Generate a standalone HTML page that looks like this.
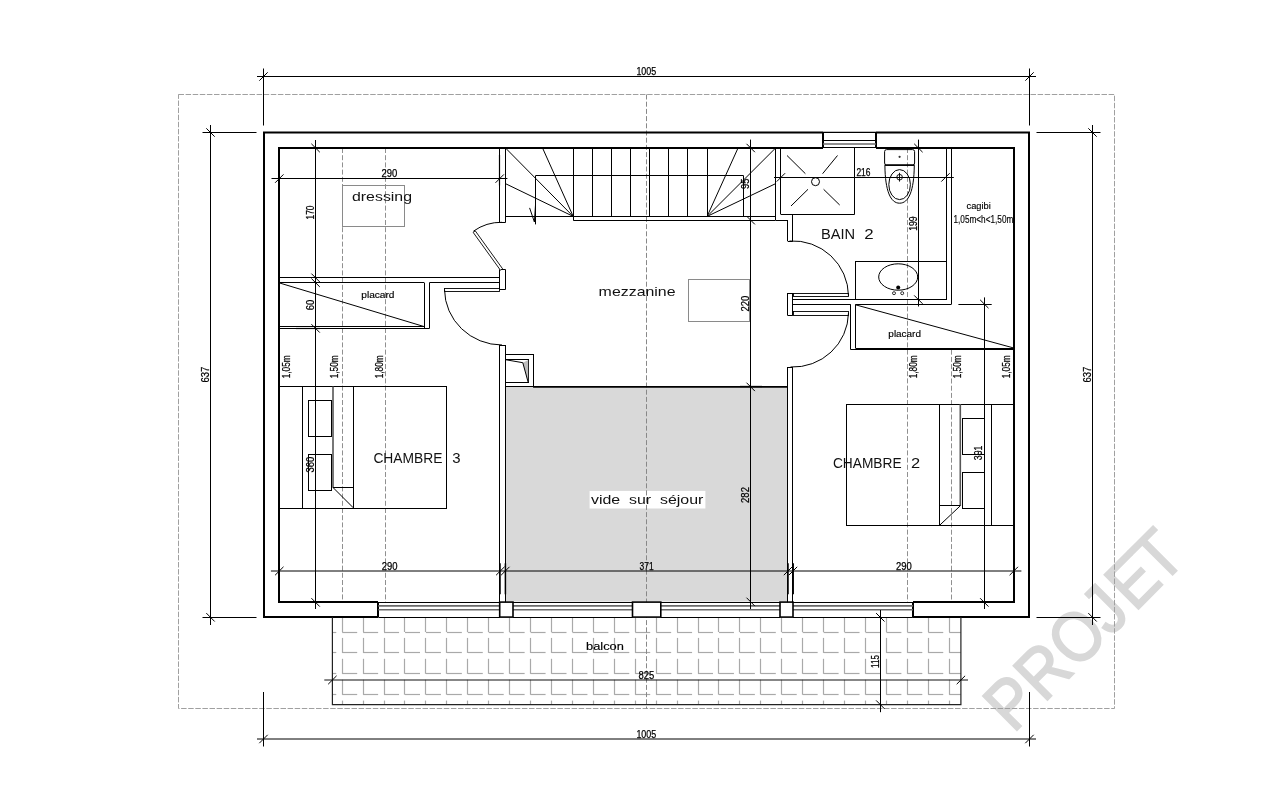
<!DOCTYPE html>
<html><head><meta charset="utf-8"><title>Plan</title>
<style>
html,body{margin:0;padding:0;background:#fff;}
body{width:1268px;height:811px;overflow:hidden;}
svg{display:block;font-family:"Liberation Sans",sans-serif;filter:grayscale(100%);}
</style></head><body>
<svg width="1268" height="811" viewBox="0 0 1268 811">
<defs><clipPath id="lbl"><rect x="589" y="490" width="117" height="19"/></clipPath></defs>
<rect x="0" y="0" width="1268" height="811" fill="#fff"/>
<rect x="505.6" y="386.7" width="282.2" height="214.9" stroke="none" stroke-width="0" fill="#d9d9d9"/>
<g transform="translate(1013.35 733.85) rotate(-45) scale(0.899 1)"><text x="0.00 47.66 99.41 152.39 190.82 232.26" y="0" font-size="69.8" fill="#d8d8d8" stroke="#d8d8d8" stroke-width="1.9">PROJET</text></g>
<line x1="342.5" y1="617.3" x2="342.5" y2="632" stroke="#a9a9a9" stroke-width="1.2"/>
<line x1="342.5" y1="637.9" x2="342.5" y2="652.9" stroke="#a9a9a9" stroke-width="1.2"/>
<line x1="342.5" y1="658.8" x2="342.5" y2="673.8" stroke="#a9a9a9" stroke-width="1.2"/>
<line x1="342.5" y1="679.7" x2="342.5" y2="694.7" stroke="#a9a9a9" stroke-width="1.2"/>
<line x1="342.5" y1="700.6" x2="342.5" y2="704.6" stroke="#a9a9a9" stroke-width="1.2"/>
<line x1="363.5" y1="617.3" x2="363.5" y2="632" stroke="#a9a9a9" stroke-width="1.2"/>
<line x1="363.5" y1="637.9" x2="363.5" y2="652.9" stroke="#a9a9a9" stroke-width="1.2"/>
<line x1="363.5" y1="658.8" x2="363.5" y2="673.8" stroke="#a9a9a9" stroke-width="1.2"/>
<line x1="363.5" y1="679.7" x2="363.5" y2="694.7" stroke="#a9a9a9" stroke-width="1.2"/>
<line x1="363.5" y1="700.6" x2="363.5" y2="704.6" stroke="#a9a9a9" stroke-width="1.2"/>
<line x1="384.5" y1="617.3" x2="384.5" y2="632" stroke="#a9a9a9" stroke-width="1.2"/>
<line x1="384.5" y1="637.9" x2="384.5" y2="652.9" stroke="#a9a9a9" stroke-width="1.2"/>
<line x1="384.5" y1="658.8" x2="384.5" y2="673.8" stroke="#a9a9a9" stroke-width="1.2"/>
<line x1="384.5" y1="679.7" x2="384.5" y2="694.7" stroke="#a9a9a9" stroke-width="1.2"/>
<line x1="384.5" y1="700.6" x2="384.5" y2="704.6" stroke="#a9a9a9" stroke-width="1.2"/>
<line x1="404.5" y1="617.3" x2="404.5" y2="632" stroke="#a9a9a9" stroke-width="1.2"/>
<line x1="404.5" y1="637.9" x2="404.5" y2="652.9" stroke="#a9a9a9" stroke-width="1.2"/>
<line x1="404.5" y1="658.8" x2="404.5" y2="673.8" stroke="#a9a9a9" stroke-width="1.2"/>
<line x1="404.5" y1="679.7" x2="404.5" y2="694.7" stroke="#a9a9a9" stroke-width="1.2"/>
<line x1="404.5" y1="700.6" x2="404.5" y2="704.6" stroke="#a9a9a9" stroke-width="1.2"/>
<line x1="425.5" y1="617.3" x2="425.5" y2="632" stroke="#a9a9a9" stroke-width="1.2"/>
<line x1="425.5" y1="637.9" x2="425.5" y2="652.9" stroke="#a9a9a9" stroke-width="1.2"/>
<line x1="425.5" y1="658.8" x2="425.5" y2="673.8" stroke="#a9a9a9" stroke-width="1.2"/>
<line x1="425.5" y1="679.7" x2="425.5" y2="694.7" stroke="#a9a9a9" stroke-width="1.2"/>
<line x1="425.5" y1="700.6" x2="425.5" y2="704.6" stroke="#a9a9a9" stroke-width="1.2"/>
<line x1="446.5" y1="617.3" x2="446.5" y2="632" stroke="#a9a9a9" stroke-width="1.2"/>
<line x1="446.5" y1="637.9" x2="446.5" y2="652.9" stroke="#a9a9a9" stroke-width="1.2"/>
<line x1="446.5" y1="658.8" x2="446.5" y2="673.8" stroke="#a9a9a9" stroke-width="1.2"/>
<line x1="446.5" y1="679.7" x2="446.5" y2="694.7" stroke="#a9a9a9" stroke-width="1.2"/>
<line x1="446.5" y1="700.6" x2="446.5" y2="704.6" stroke="#a9a9a9" stroke-width="1.2"/>
<line x1="467.5" y1="617.3" x2="467.5" y2="632" stroke="#a9a9a9" stroke-width="1.2"/>
<line x1="467.5" y1="637.9" x2="467.5" y2="652.9" stroke="#a9a9a9" stroke-width="1.2"/>
<line x1="467.5" y1="658.8" x2="467.5" y2="673.8" stroke="#a9a9a9" stroke-width="1.2"/>
<line x1="467.5" y1="679.7" x2="467.5" y2="694.7" stroke="#a9a9a9" stroke-width="1.2"/>
<line x1="467.5" y1="700.6" x2="467.5" y2="704.6" stroke="#a9a9a9" stroke-width="1.2"/>
<line x1="488.5" y1="617.3" x2="488.5" y2="632" stroke="#a9a9a9" stroke-width="1.2"/>
<line x1="488.5" y1="637.9" x2="488.5" y2="652.9" stroke="#a9a9a9" stroke-width="1.2"/>
<line x1="488.5" y1="658.8" x2="488.5" y2="673.8" stroke="#a9a9a9" stroke-width="1.2"/>
<line x1="488.5" y1="679.7" x2="488.5" y2="694.7" stroke="#a9a9a9" stroke-width="1.2"/>
<line x1="488.5" y1="700.6" x2="488.5" y2="704.6" stroke="#a9a9a9" stroke-width="1.2"/>
<line x1="509.5" y1="617.3" x2="509.5" y2="632" stroke="#a9a9a9" stroke-width="1.2"/>
<line x1="509.5" y1="637.9" x2="509.5" y2="652.9" stroke="#a9a9a9" stroke-width="1.2"/>
<line x1="509.5" y1="658.8" x2="509.5" y2="673.8" stroke="#a9a9a9" stroke-width="1.2"/>
<line x1="509.5" y1="679.7" x2="509.5" y2="694.7" stroke="#a9a9a9" stroke-width="1.2"/>
<line x1="509.5" y1="700.6" x2="509.5" y2="704.6" stroke="#a9a9a9" stroke-width="1.2"/>
<line x1="530.5" y1="617.3" x2="530.5" y2="632" stroke="#a9a9a9" stroke-width="1.2"/>
<line x1="530.5" y1="637.9" x2="530.5" y2="652.9" stroke="#a9a9a9" stroke-width="1.2"/>
<line x1="530.5" y1="658.8" x2="530.5" y2="673.8" stroke="#a9a9a9" stroke-width="1.2"/>
<line x1="530.5" y1="679.7" x2="530.5" y2="694.7" stroke="#a9a9a9" stroke-width="1.2"/>
<line x1="530.5" y1="700.6" x2="530.5" y2="704.6" stroke="#a9a9a9" stroke-width="1.2"/>
<line x1="551.5" y1="617.3" x2="551.5" y2="632" stroke="#a9a9a9" stroke-width="1.2"/>
<line x1="551.5" y1="637.9" x2="551.5" y2="652.9" stroke="#a9a9a9" stroke-width="1.2"/>
<line x1="551.5" y1="658.8" x2="551.5" y2="673.8" stroke="#a9a9a9" stroke-width="1.2"/>
<line x1="551.5" y1="679.7" x2="551.5" y2="694.7" stroke="#a9a9a9" stroke-width="1.2"/>
<line x1="551.5" y1="700.6" x2="551.5" y2="704.6" stroke="#a9a9a9" stroke-width="1.2"/>
<line x1="572.5" y1="617.3" x2="572.5" y2="632" stroke="#a9a9a9" stroke-width="1.2"/>
<line x1="572.5" y1="637.9" x2="572.5" y2="652.9" stroke="#a9a9a9" stroke-width="1.2"/>
<line x1="572.5" y1="658.8" x2="572.5" y2="673.8" stroke="#a9a9a9" stroke-width="1.2"/>
<line x1="572.5" y1="679.7" x2="572.5" y2="694.7" stroke="#a9a9a9" stroke-width="1.2"/>
<line x1="572.5" y1="700.6" x2="572.5" y2="704.6" stroke="#a9a9a9" stroke-width="1.2"/>
<line x1="593.5" y1="617.3" x2="593.5" y2="632" stroke="#a9a9a9" stroke-width="1.2"/>
<line x1="593.5" y1="637.9" x2="593.5" y2="652.9" stroke="#a9a9a9" stroke-width="1.2"/>
<line x1="593.5" y1="658.8" x2="593.5" y2="673.8" stroke="#a9a9a9" stroke-width="1.2"/>
<line x1="593.5" y1="679.7" x2="593.5" y2="694.7" stroke="#a9a9a9" stroke-width="1.2"/>
<line x1="593.5" y1="700.6" x2="593.5" y2="704.6" stroke="#a9a9a9" stroke-width="1.2"/>
<line x1="614.5" y1="617.3" x2="614.5" y2="632" stroke="#a9a9a9" stroke-width="1.2"/>
<line x1="614.5" y1="637.9" x2="614.5" y2="652.9" stroke="#a9a9a9" stroke-width="1.2"/>
<line x1="614.5" y1="658.8" x2="614.5" y2="673.8" stroke="#a9a9a9" stroke-width="1.2"/>
<line x1="614.5" y1="679.7" x2="614.5" y2="694.7" stroke="#a9a9a9" stroke-width="1.2"/>
<line x1="614.5" y1="700.6" x2="614.5" y2="704.6" stroke="#a9a9a9" stroke-width="1.2"/>
<line x1="635.5" y1="617.3" x2="635.5" y2="632" stroke="#a9a9a9" stroke-width="1.2"/>
<line x1="635.5" y1="637.9" x2="635.5" y2="652.9" stroke="#a9a9a9" stroke-width="1.2"/>
<line x1="635.5" y1="658.8" x2="635.5" y2="673.8" stroke="#a9a9a9" stroke-width="1.2"/>
<line x1="635.5" y1="679.7" x2="635.5" y2="694.7" stroke="#a9a9a9" stroke-width="1.2"/>
<line x1="635.5" y1="700.6" x2="635.5" y2="704.6" stroke="#a9a9a9" stroke-width="1.2"/>
<line x1="656.5" y1="617.3" x2="656.5" y2="632" stroke="#a9a9a9" stroke-width="1.2"/>
<line x1="656.5" y1="637.9" x2="656.5" y2="652.9" stroke="#a9a9a9" stroke-width="1.2"/>
<line x1="656.5" y1="658.8" x2="656.5" y2="673.8" stroke="#a9a9a9" stroke-width="1.2"/>
<line x1="656.5" y1="679.7" x2="656.5" y2="694.7" stroke="#a9a9a9" stroke-width="1.2"/>
<line x1="656.5" y1="700.6" x2="656.5" y2="704.6" stroke="#a9a9a9" stroke-width="1.2"/>
<line x1="677.5" y1="617.3" x2="677.5" y2="632" stroke="#a9a9a9" stroke-width="1.2"/>
<line x1="677.5" y1="637.9" x2="677.5" y2="652.9" stroke="#a9a9a9" stroke-width="1.2"/>
<line x1="677.5" y1="658.8" x2="677.5" y2="673.8" stroke="#a9a9a9" stroke-width="1.2"/>
<line x1="677.5" y1="679.7" x2="677.5" y2="694.7" stroke="#a9a9a9" stroke-width="1.2"/>
<line x1="677.5" y1="700.6" x2="677.5" y2="704.6" stroke="#a9a9a9" stroke-width="1.2"/>
<line x1="698.5" y1="617.3" x2="698.5" y2="632" stroke="#a9a9a9" stroke-width="1.2"/>
<line x1="698.5" y1="637.9" x2="698.5" y2="652.9" stroke="#a9a9a9" stroke-width="1.2"/>
<line x1="698.5" y1="658.8" x2="698.5" y2="673.8" stroke="#a9a9a9" stroke-width="1.2"/>
<line x1="698.5" y1="679.7" x2="698.5" y2="694.7" stroke="#a9a9a9" stroke-width="1.2"/>
<line x1="698.5" y1="700.6" x2="698.5" y2="704.6" stroke="#a9a9a9" stroke-width="1.2"/>
<line x1="718.5" y1="617.3" x2="718.5" y2="632" stroke="#a9a9a9" stroke-width="1.2"/>
<line x1="718.5" y1="637.9" x2="718.5" y2="652.9" stroke="#a9a9a9" stroke-width="1.2"/>
<line x1="718.5" y1="658.8" x2="718.5" y2="673.8" stroke="#a9a9a9" stroke-width="1.2"/>
<line x1="718.5" y1="679.7" x2="718.5" y2="694.7" stroke="#a9a9a9" stroke-width="1.2"/>
<line x1="718.5" y1="700.6" x2="718.5" y2="704.6" stroke="#a9a9a9" stroke-width="1.2"/>
<line x1="739.5" y1="617.3" x2="739.5" y2="632" stroke="#a9a9a9" stroke-width="1.2"/>
<line x1="739.5" y1="637.9" x2="739.5" y2="652.9" stroke="#a9a9a9" stroke-width="1.2"/>
<line x1="739.5" y1="658.8" x2="739.5" y2="673.8" stroke="#a9a9a9" stroke-width="1.2"/>
<line x1="739.5" y1="679.7" x2="739.5" y2="694.7" stroke="#a9a9a9" stroke-width="1.2"/>
<line x1="739.5" y1="700.6" x2="739.5" y2="704.6" stroke="#a9a9a9" stroke-width="1.2"/>
<line x1="760.5" y1="617.3" x2="760.5" y2="632" stroke="#a9a9a9" stroke-width="1.2"/>
<line x1="760.5" y1="637.9" x2="760.5" y2="652.9" stroke="#a9a9a9" stroke-width="1.2"/>
<line x1="760.5" y1="658.8" x2="760.5" y2="673.8" stroke="#a9a9a9" stroke-width="1.2"/>
<line x1="760.5" y1="679.7" x2="760.5" y2="694.7" stroke="#a9a9a9" stroke-width="1.2"/>
<line x1="760.5" y1="700.6" x2="760.5" y2="704.6" stroke="#a9a9a9" stroke-width="1.2"/>
<line x1="781.5" y1="617.3" x2="781.5" y2="632" stroke="#a9a9a9" stroke-width="1.2"/>
<line x1="781.5" y1="637.9" x2="781.5" y2="652.9" stroke="#a9a9a9" stroke-width="1.2"/>
<line x1="781.5" y1="658.8" x2="781.5" y2="673.8" stroke="#a9a9a9" stroke-width="1.2"/>
<line x1="781.5" y1="679.7" x2="781.5" y2="694.7" stroke="#a9a9a9" stroke-width="1.2"/>
<line x1="781.5" y1="700.6" x2="781.5" y2="704.6" stroke="#a9a9a9" stroke-width="1.2"/>
<line x1="802.5" y1="617.3" x2="802.5" y2="632" stroke="#a9a9a9" stroke-width="1.2"/>
<line x1="802.5" y1="637.9" x2="802.5" y2="652.9" stroke="#a9a9a9" stroke-width="1.2"/>
<line x1="802.5" y1="658.8" x2="802.5" y2="673.8" stroke="#a9a9a9" stroke-width="1.2"/>
<line x1="802.5" y1="679.7" x2="802.5" y2="694.7" stroke="#a9a9a9" stroke-width="1.2"/>
<line x1="802.5" y1="700.6" x2="802.5" y2="704.6" stroke="#a9a9a9" stroke-width="1.2"/>
<line x1="823.5" y1="617.3" x2="823.5" y2="632" stroke="#a9a9a9" stroke-width="1.2"/>
<line x1="823.5" y1="637.9" x2="823.5" y2="652.9" stroke="#a9a9a9" stroke-width="1.2"/>
<line x1="823.5" y1="658.8" x2="823.5" y2="673.8" stroke="#a9a9a9" stroke-width="1.2"/>
<line x1="823.5" y1="679.7" x2="823.5" y2="694.7" stroke="#a9a9a9" stroke-width="1.2"/>
<line x1="823.5" y1="700.6" x2="823.5" y2="704.6" stroke="#a9a9a9" stroke-width="1.2"/>
<line x1="844.5" y1="617.3" x2="844.5" y2="632" stroke="#a9a9a9" stroke-width="1.2"/>
<line x1="844.5" y1="637.9" x2="844.5" y2="652.9" stroke="#a9a9a9" stroke-width="1.2"/>
<line x1="844.5" y1="658.8" x2="844.5" y2="673.8" stroke="#a9a9a9" stroke-width="1.2"/>
<line x1="844.5" y1="679.7" x2="844.5" y2="694.7" stroke="#a9a9a9" stroke-width="1.2"/>
<line x1="844.5" y1="700.6" x2="844.5" y2="704.6" stroke="#a9a9a9" stroke-width="1.2"/>
<line x1="865.5" y1="617.3" x2="865.5" y2="632" stroke="#a9a9a9" stroke-width="1.2"/>
<line x1="865.5" y1="637.9" x2="865.5" y2="652.9" stroke="#a9a9a9" stroke-width="1.2"/>
<line x1="865.5" y1="658.8" x2="865.5" y2="673.8" stroke="#a9a9a9" stroke-width="1.2"/>
<line x1="865.5" y1="679.7" x2="865.5" y2="694.7" stroke="#a9a9a9" stroke-width="1.2"/>
<line x1="865.5" y1="700.6" x2="865.5" y2="704.6" stroke="#a9a9a9" stroke-width="1.2"/>
<line x1="886.5" y1="617.3" x2="886.5" y2="632" stroke="#a9a9a9" stroke-width="1.2"/>
<line x1="886.5" y1="637.9" x2="886.5" y2="652.9" stroke="#a9a9a9" stroke-width="1.2"/>
<line x1="886.5" y1="658.8" x2="886.5" y2="673.8" stroke="#a9a9a9" stroke-width="1.2"/>
<line x1="886.5" y1="679.7" x2="886.5" y2="694.7" stroke="#a9a9a9" stroke-width="1.2"/>
<line x1="886.5" y1="700.6" x2="886.5" y2="704.6" stroke="#a9a9a9" stroke-width="1.2"/>
<line x1="907.5" y1="617.3" x2="907.5" y2="632" stroke="#a9a9a9" stroke-width="1.2"/>
<line x1="907.5" y1="637.9" x2="907.5" y2="652.9" stroke="#a9a9a9" stroke-width="1.2"/>
<line x1="907.5" y1="658.8" x2="907.5" y2="673.8" stroke="#a9a9a9" stroke-width="1.2"/>
<line x1="907.5" y1="679.7" x2="907.5" y2="694.7" stroke="#a9a9a9" stroke-width="1.2"/>
<line x1="907.5" y1="700.6" x2="907.5" y2="704.6" stroke="#a9a9a9" stroke-width="1.2"/>
<line x1="928.5" y1="617.3" x2="928.5" y2="632" stroke="#a9a9a9" stroke-width="1.2"/>
<line x1="928.5" y1="637.9" x2="928.5" y2="652.9" stroke="#a9a9a9" stroke-width="1.2"/>
<line x1="928.5" y1="658.8" x2="928.5" y2="673.8" stroke="#a9a9a9" stroke-width="1.2"/>
<line x1="928.5" y1="679.7" x2="928.5" y2="694.7" stroke="#a9a9a9" stroke-width="1.2"/>
<line x1="928.5" y1="700.6" x2="928.5" y2="704.6" stroke="#a9a9a9" stroke-width="1.2"/>
<line x1="949.5" y1="617.3" x2="949.5" y2="632" stroke="#a9a9a9" stroke-width="1.2"/>
<line x1="949.5" y1="637.9" x2="949.5" y2="652.9" stroke="#a9a9a9" stroke-width="1.2"/>
<line x1="949.5" y1="658.8" x2="949.5" y2="673.8" stroke="#a9a9a9" stroke-width="1.2"/>
<line x1="949.5" y1="679.7" x2="949.5" y2="694.7" stroke="#a9a9a9" stroke-width="1.2"/>
<line x1="949.5" y1="700.6" x2="949.5" y2="704.6" stroke="#a9a9a9" stroke-width="1.2"/>
<line x1="332.4" y1="632.5" x2="336.27" y2="632.5" stroke="#a9a9a9" stroke-width="1.2"/>
<line x1="342.2" y1="632.5" x2="357.2" y2="632.5" stroke="#a9a9a9" stroke-width="1.2"/>
<line x1="363.13" y1="632.5" x2="378.13" y2="632.5" stroke="#a9a9a9" stroke-width="1.2"/>
<line x1="384.06" y1="632.5" x2="399.06" y2="632.5" stroke="#a9a9a9" stroke-width="1.2"/>
<line x1="404.99" y1="632.5" x2="419.99" y2="632.5" stroke="#a9a9a9" stroke-width="1.2"/>
<line x1="425.92" y1="632.5" x2="440.92" y2="632.5" stroke="#a9a9a9" stroke-width="1.2"/>
<line x1="446.85" y1="632.5" x2="461.85" y2="632.5" stroke="#a9a9a9" stroke-width="1.2"/>
<line x1="467.78" y1="632.5" x2="482.78" y2="632.5" stroke="#a9a9a9" stroke-width="1.2"/>
<line x1="488.71" y1="632.5" x2="503.71" y2="632.5" stroke="#a9a9a9" stroke-width="1.2"/>
<line x1="509.64" y1="632.5" x2="524.64" y2="632.5" stroke="#a9a9a9" stroke-width="1.2"/>
<line x1="530.57" y1="632.5" x2="545.57" y2="632.5" stroke="#a9a9a9" stroke-width="1.2"/>
<line x1="551.5" y1="632.5" x2="566.5" y2="632.5" stroke="#a9a9a9" stroke-width="1.2"/>
<line x1="572.43" y1="632.5" x2="587.43" y2="632.5" stroke="#a9a9a9" stroke-width="1.2"/>
<line x1="593.36" y1="632.5" x2="608.36" y2="632.5" stroke="#a9a9a9" stroke-width="1.2"/>
<line x1="614.29" y1="632.5" x2="629.29" y2="632.5" stroke="#a9a9a9" stroke-width="1.2"/>
<line x1="635.22" y1="632.5" x2="650.22" y2="632.5" stroke="#a9a9a9" stroke-width="1.2"/>
<line x1="656.15" y1="632.5" x2="671.15" y2="632.5" stroke="#a9a9a9" stroke-width="1.2"/>
<line x1="677.08" y1="632.5" x2="692.08" y2="632.5" stroke="#a9a9a9" stroke-width="1.2"/>
<line x1="698.01" y1="632.5" x2="713.01" y2="632.5" stroke="#a9a9a9" stroke-width="1.2"/>
<line x1="718.94" y1="632.5" x2="733.94" y2="632.5" stroke="#a9a9a9" stroke-width="1.2"/>
<line x1="739.87" y1="632.5" x2="754.87" y2="632.5" stroke="#a9a9a9" stroke-width="1.2"/>
<line x1="760.8" y1="632.5" x2="775.8" y2="632.5" stroke="#a9a9a9" stroke-width="1.2"/>
<line x1="781.73" y1="632.5" x2="796.73" y2="632.5" stroke="#a9a9a9" stroke-width="1.2"/>
<line x1="802.66" y1="632.5" x2="817.66" y2="632.5" stroke="#a9a9a9" stroke-width="1.2"/>
<line x1="823.59" y1="632.5" x2="838.59" y2="632.5" stroke="#a9a9a9" stroke-width="1.2"/>
<line x1="844.52" y1="632.5" x2="859.52" y2="632.5" stroke="#a9a9a9" stroke-width="1.2"/>
<line x1="865.45" y1="632.5" x2="880.45" y2="632.5" stroke="#a9a9a9" stroke-width="1.2"/>
<line x1="886.38" y1="632.5" x2="901.38" y2="632.5" stroke="#a9a9a9" stroke-width="1.2"/>
<line x1="907.31" y1="632.5" x2="922.31" y2="632.5" stroke="#a9a9a9" stroke-width="1.2"/>
<line x1="928.24" y1="632.5" x2="943.24" y2="632.5" stroke="#a9a9a9" stroke-width="1.2"/>
<line x1="949.17" y1="632.5" x2="960.9" y2="632.5" stroke="#a9a9a9" stroke-width="1.2"/>
<line x1="332.4" y1="652.5" x2="336.27" y2="652.5" stroke="#a9a9a9" stroke-width="1.2"/>
<line x1="342.2" y1="652.5" x2="357.2" y2="652.5" stroke="#a9a9a9" stroke-width="1.2"/>
<line x1="363.13" y1="652.5" x2="378.13" y2="652.5" stroke="#a9a9a9" stroke-width="1.2"/>
<line x1="384.06" y1="652.5" x2="399.06" y2="652.5" stroke="#a9a9a9" stroke-width="1.2"/>
<line x1="404.99" y1="652.5" x2="419.99" y2="652.5" stroke="#a9a9a9" stroke-width="1.2"/>
<line x1="425.92" y1="652.5" x2="440.92" y2="652.5" stroke="#a9a9a9" stroke-width="1.2"/>
<line x1="446.85" y1="652.5" x2="461.85" y2="652.5" stroke="#a9a9a9" stroke-width="1.2"/>
<line x1="467.78" y1="652.5" x2="482.78" y2="652.5" stroke="#a9a9a9" stroke-width="1.2"/>
<line x1="488.71" y1="652.5" x2="503.71" y2="652.5" stroke="#a9a9a9" stroke-width="1.2"/>
<line x1="509.64" y1="652.5" x2="524.64" y2="652.5" stroke="#a9a9a9" stroke-width="1.2"/>
<line x1="530.57" y1="652.5" x2="545.57" y2="652.5" stroke="#a9a9a9" stroke-width="1.2"/>
<line x1="551.5" y1="652.5" x2="566.5" y2="652.5" stroke="#a9a9a9" stroke-width="1.2"/>
<line x1="572.43" y1="652.5" x2="587.43" y2="652.5" stroke="#a9a9a9" stroke-width="1.2"/>
<line x1="593.36" y1="652.5" x2="608.36" y2="652.5" stroke="#a9a9a9" stroke-width="1.2"/>
<line x1="614.29" y1="652.5" x2="629.29" y2="652.5" stroke="#a9a9a9" stroke-width="1.2"/>
<line x1="635.22" y1="652.5" x2="650.22" y2="652.5" stroke="#a9a9a9" stroke-width="1.2"/>
<line x1="656.15" y1="652.5" x2="671.15" y2="652.5" stroke="#a9a9a9" stroke-width="1.2"/>
<line x1="677.08" y1="652.5" x2="692.08" y2="652.5" stroke="#a9a9a9" stroke-width="1.2"/>
<line x1="698.01" y1="652.5" x2="713.01" y2="652.5" stroke="#a9a9a9" stroke-width="1.2"/>
<line x1="718.94" y1="652.5" x2="733.94" y2="652.5" stroke="#a9a9a9" stroke-width="1.2"/>
<line x1="739.87" y1="652.5" x2="754.87" y2="652.5" stroke="#a9a9a9" stroke-width="1.2"/>
<line x1="760.8" y1="652.5" x2="775.8" y2="652.5" stroke="#a9a9a9" stroke-width="1.2"/>
<line x1="781.73" y1="652.5" x2="796.73" y2="652.5" stroke="#a9a9a9" stroke-width="1.2"/>
<line x1="802.66" y1="652.5" x2="817.66" y2="652.5" stroke="#a9a9a9" stroke-width="1.2"/>
<line x1="823.59" y1="652.5" x2="838.59" y2="652.5" stroke="#a9a9a9" stroke-width="1.2"/>
<line x1="844.52" y1="652.5" x2="859.52" y2="652.5" stroke="#a9a9a9" stroke-width="1.2"/>
<line x1="865.45" y1="652.5" x2="880.45" y2="652.5" stroke="#a9a9a9" stroke-width="1.2"/>
<line x1="886.38" y1="652.5" x2="901.38" y2="652.5" stroke="#a9a9a9" stroke-width="1.2"/>
<line x1="907.31" y1="652.5" x2="922.31" y2="652.5" stroke="#a9a9a9" stroke-width="1.2"/>
<line x1="928.24" y1="652.5" x2="943.24" y2="652.5" stroke="#a9a9a9" stroke-width="1.2"/>
<line x1="949.17" y1="652.5" x2="960.9" y2="652.5" stroke="#a9a9a9" stroke-width="1.2"/>
<line x1="332.4" y1="673.5" x2="336.27" y2="673.5" stroke="#a9a9a9" stroke-width="1.2"/>
<line x1="342.2" y1="673.5" x2="357.2" y2="673.5" stroke="#a9a9a9" stroke-width="1.2"/>
<line x1="363.13" y1="673.5" x2="378.13" y2="673.5" stroke="#a9a9a9" stroke-width="1.2"/>
<line x1="384.06" y1="673.5" x2="399.06" y2="673.5" stroke="#a9a9a9" stroke-width="1.2"/>
<line x1="404.99" y1="673.5" x2="419.99" y2="673.5" stroke="#a9a9a9" stroke-width="1.2"/>
<line x1="425.92" y1="673.5" x2="440.92" y2="673.5" stroke="#a9a9a9" stroke-width="1.2"/>
<line x1="446.85" y1="673.5" x2="461.85" y2="673.5" stroke="#a9a9a9" stroke-width="1.2"/>
<line x1="467.78" y1="673.5" x2="482.78" y2="673.5" stroke="#a9a9a9" stroke-width="1.2"/>
<line x1="488.71" y1="673.5" x2="503.71" y2="673.5" stroke="#a9a9a9" stroke-width="1.2"/>
<line x1="509.64" y1="673.5" x2="524.64" y2="673.5" stroke="#a9a9a9" stroke-width="1.2"/>
<line x1="530.57" y1="673.5" x2="545.57" y2="673.5" stroke="#a9a9a9" stroke-width="1.2"/>
<line x1="551.5" y1="673.5" x2="566.5" y2="673.5" stroke="#a9a9a9" stroke-width="1.2"/>
<line x1="572.43" y1="673.5" x2="587.43" y2="673.5" stroke="#a9a9a9" stroke-width="1.2"/>
<line x1="593.36" y1="673.5" x2="608.36" y2="673.5" stroke="#a9a9a9" stroke-width="1.2"/>
<line x1="614.29" y1="673.5" x2="629.29" y2="673.5" stroke="#a9a9a9" stroke-width="1.2"/>
<line x1="635.22" y1="673.5" x2="650.22" y2="673.5" stroke="#a9a9a9" stroke-width="1.2"/>
<line x1="656.15" y1="673.5" x2="671.15" y2="673.5" stroke="#a9a9a9" stroke-width="1.2"/>
<line x1="677.08" y1="673.5" x2="692.08" y2="673.5" stroke="#a9a9a9" stroke-width="1.2"/>
<line x1="698.01" y1="673.5" x2="713.01" y2="673.5" stroke="#a9a9a9" stroke-width="1.2"/>
<line x1="718.94" y1="673.5" x2="733.94" y2="673.5" stroke="#a9a9a9" stroke-width="1.2"/>
<line x1="739.87" y1="673.5" x2="754.87" y2="673.5" stroke="#a9a9a9" stroke-width="1.2"/>
<line x1="760.8" y1="673.5" x2="775.8" y2="673.5" stroke="#a9a9a9" stroke-width="1.2"/>
<line x1="781.73" y1="673.5" x2="796.73" y2="673.5" stroke="#a9a9a9" stroke-width="1.2"/>
<line x1="802.66" y1="673.5" x2="817.66" y2="673.5" stroke="#a9a9a9" stroke-width="1.2"/>
<line x1="823.59" y1="673.5" x2="838.59" y2="673.5" stroke="#a9a9a9" stroke-width="1.2"/>
<line x1="844.52" y1="673.5" x2="859.52" y2="673.5" stroke="#a9a9a9" stroke-width="1.2"/>
<line x1="865.45" y1="673.5" x2="880.45" y2="673.5" stroke="#a9a9a9" stroke-width="1.2"/>
<line x1="886.38" y1="673.5" x2="901.38" y2="673.5" stroke="#a9a9a9" stroke-width="1.2"/>
<line x1="907.31" y1="673.5" x2="922.31" y2="673.5" stroke="#a9a9a9" stroke-width="1.2"/>
<line x1="928.24" y1="673.5" x2="943.24" y2="673.5" stroke="#a9a9a9" stroke-width="1.2"/>
<line x1="949.17" y1="673.5" x2="960.9" y2="673.5" stroke="#a9a9a9" stroke-width="1.2"/>
<line x1="332.4" y1="694.5" x2="336.27" y2="694.5" stroke="#a9a9a9" stroke-width="1.2"/>
<line x1="342.2" y1="694.5" x2="357.2" y2="694.5" stroke="#a9a9a9" stroke-width="1.2"/>
<line x1="363.13" y1="694.5" x2="378.13" y2="694.5" stroke="#a9a9a9" stroke-width="1.2"/>
<line x1="384.06" y1="694.5" x2="399.06" y2="694.5" stroke="#a9a9a9" stroke-width="1.2"/>
<line x1="404.99" y1="694.5" x2="419.99" y2="694.5" stroke="#a9a9a9" stroke-width="1.2"/>
<line x1="425.92" y1="694.5" x2="440.92" y2="694.5" stroke="#a9a9a9" stroke-width="1.2"/>
<line x1="446.85" y1="694.5" x2="461.85" y2="694.5" stroke="#a9a9a9" stroke-width="1.2"/>
<line x1="467.78" y1="694.5" x2="482.78" y2="694.5" stroke="#a9a9a9" stroke-width="1.2"/>
<line x1="488.71" y1="694.5" x2="503.71" y2="694.5" stroke="#a9a9a9" stroke-width="1.2"/>
<line x1="509.64" y1="694.5" x2="524.64" y2="694.5" stroke="#a9a9a9" stroke-width="1.2"/>
<line x1="530.57" y1="694.5" x2="545.57" y2="694.5" stroke="#a9a9a9" stroke-width="1.2"/>
<line x1="551.5" y1="694.5" x2="566.5" y2="694.5" stroke="#a9a9a9" stroke-width="1.2"/>
<line x1="572.43" y1="694.5" x2="587.43" y2="694.5" stroke="#a9a9a9" stroke-width="1.2"/>
<line x1="593.36" y1="694.5" x2="608.36" y2="694.5" stroke="#a9a9a9" stroke-width="1.2"/>
<line x1="614.29" y1="694.5" x2="629.29" y2="694.5" stroke="#a9a9a9" stroke-width="1.2"/>
<line x1="635.22" y1="694.5" x2="650.22" y2="694.5" stroke="#a9a9a9" stroke-width="1.2"/>
<line x1="656.15" y1="694.5" x2="671.15" y2="694.5" stroke="#a9a9a9" stroke-width="1.2"/>
<line x1="677.08" y1="694.5" x2="692.08" y2="694.5" stroke="#a9a9a9" stroke-width="1.2"/>
<line x1="698.01" y1="694.5" x2="713.01" y2="694.5" stroke="#a9a9a9" stroke-width="1.2"/>
<line x1="718.94" y1="694.5" x2="733.94" y2="694.5" stroke="#a9a9a9" stroke-width="1.2"/>
<line x1="739.87" y1="694.5" x2="754.87" y2="694.5" stroke="#a9a9a9" stroke-width="1.2"/>
<line x1="760.8" y1="694.5" x2="775.8" y2="694.5" stroke="#a9a9a9" stroke-width="1.2"/>
<line x1="781.73" y1="694.5" x2="796.73" y2="694.5" stroke="#a9a9a9" stroke-width="1.2"/>
<line x1="802.66" y1="694.5" x2="817.66" y2="694.5" stroke="#a9a9a9" stroke-width="1.2"/>
<line x1="823.59" y1="694.5" x2="838.59" y2="694.5" stroke="#a9a9a9" stroke-width="1.2"/>
<line x1="844.52" y1="694.5" x2="859.52" y2="694.5" stroke="#a9a9a9" stroke-width="1.2"/>
<line x1="865.45" y1="694.5" x2="880.45" y2="694.5" stroke="#a9a9a9" stroke-width="1.2"/>
<line x1="886.38" y1="694.5" x2="901.38" y2="694.5" stroke="#a9a9a9" stroke-width="1.2"/>
<line x1="907.31" y1="694.5" x2="922.31" y2="694.5" stroke="#a9a9a9" stroke-width="1.2"/>
<line x1="928.24" y1="694.5" x2="943.24" y2="694.5" stroke="#a9a9a9" stroke-width="1.2"/>
<line x1="949.17" y1="694.5" x2="960.9" y2="694.5" stroke="#a9a9a9" stroke-width="1.2"/>
<rect x="178.5" y="94.5" width="936" height="614" stroke="#a0a0a0" stroke-width="1" fill="none" stroke-dasharray="5.5 1.6"/>
<line x1="646.5" y1="94.5" x2="646.5" y2="708.7" stroke="#888" stroke-width="1" stroke-dasharray="5 2.2"/>
<line x1="342.5" y1="148" x2="342.5" y2="602.4" stroke="#909090" stroke-width="1" stroke-dasharray="5 2.2"/>
<line x1="385.5" y1="148" x2="385.5" y2="602.4" stroke="#909090" stroke-width="1" stroke-dasharray="5 2.2"/>
<line x1="907.5" y1="148" x2="907.5" y2="602.4" stroke="#909090" stroke-width="1" stroke-dasharray="5 2.2"/>
<line x1="951.5" y1="349.7" x2="951.5" y2="602.4" stroke="#909090" stroke-width="1" stroke-dasharray="5 2.2"/>
<line x1="257" y1="76.5" x2="1036" y2="76.5" stroke="#000" stroke-width="1"/>
<line x1="263.5" y1="68.5" x2="263.5" y2="125.5" stroke="#000" stroke-width="1"/>
<line x1="1029.5" y1="68.5" x2="1029.5" y2="125.5" stroke="#000" stroke-width="1"/>
<line x1="259.3" y1="80.7" x2="267.7" y2="72.3" stroke="#000" stroke-width="1"/>
<line x1="1025.3" y1="80.7" x2="1033.7" y2="72.3" stroke="#000" stroke-width="1"/>
<line x1="257" y1="739" x2="1036" y2="739" stroke="#000" stroke-width="1"/>
<line x1="263.5" y1="692" x2="263.5" y2="746.5" stroke="#000" stroke-width="1"/>
<line x1="1029.5" y1="692" x2="1029.5" y2="746.5" stroke="#000" stroke-width="1"/>
<line x1="259.3" y1="743.2" x2="267.7" y2="734.8" stroke="#000" stroke-width="1"/>
<line x1="1025.3" y1="743.2" x2="1033.7" y2="734.8" stroke="#000" stroke-width="1"/>
<line x1="210.5" y1="125" x2="210.5" y2="625" stroke="#000" stroke-width="1"/>
<line x1="202.5" y1="132.5" x2="256.5" y2="132.5" stroke="#000" stroke-width="1"/>
<line x1="202.5" y1="617.5" x2="256.5" y2="617.5" stroke="#000" stroke-width="1"/>
<line x1="206.3" y1="128.3" x2="214.7" y2="136.7" stroke="#000" stroke-width="1"/>
<line x1="206.3" y1="613.1" x2="214.7" y2="621.5" stroke="#000" stroke-width="1"/>
<line x1="1092.5" y1="125" x2="1092.5" y2="625" stroke="#000" stroke-width="1"/>
<line x1="1036.5" y1="132.5" x2="1100.5" y2="132.5" stroke="#000" stroke-width="1"/>
<line x1="1036.5" y1="617.5" x2="1100.5" y2="617.5" stroke="#000" stroke-width="1"/>
<line x1="1088.3" y1="128.3" x2="1096.7" y2="136.7" stroke="#000" stroke-width="1"/>
<line x1="1088.3" y1="613.1" x2="1096.7" y2="621.5" stroke="#000" stroke-width="1"/>
<polyline points="823,132.5 264,132.5 264,617 378,617" stroke="#000" stroke-width="2" fill="none"/>
<polyline points="876,132.5 1029,132.5 1029,617 913,617" stroke="#000" stroke-width="2" fill="none"/>
<line x1="823" y1="132.5" x2="823" y2="148" stroke="#000" stroke-width="2"/>
<line x1="876" y1="132.5" x2="876" y2="148" stroke="#000" stroke-width="2"/>
<line x1="378" y1="602" x2="378" y2="617" stroke="#000" stroke-width="2"/>
<line x1="913" y1="602" x2="913" y2="617" stroke="#000" stroke-width="2"/>
<polyline points="823,148 279,148 279,602 378,602" stroke="#000" stroke-width="2" fill="none"/>
<polyline points="876,148 1014,148 1014,602 913,602" stroke="#000" stroke-width="2" fill="none"/>
<line x1="823" y1="132.4" x2="876" y2="132.4" stroke="#000" stroke-width="1.4"/>
<line x1="823" y1="140.5" x2="876" y2="140.5" stroke="#000" stroke-width="1"/>
<line x1="823" y1="144" x2="876" y2="144" stroke="#6a6a6a" stroke-width="1.5"/>
<line x1="823" y1="147.5" x2="876" y2="147.5" stroke="#000" stroke-width="1"/>
<line x1="378.3" y1="602.5" x2="499.7" y2="602.5" stroke="#000" stroke-width="1"/>
<line x1="378.3" y1="605.9" x2="499.7" y2="605.9" stroke="#6a6a6a" stroke-width="1.6"/>
<line x1="378.3" y1="609.7" x2="499.7" y2="609.7" stroke="#6a6a6a" stroke-width="1.6"/>
<line x1="378.3" y1="617.5" x2="499.7" y2="617.5" stroke="#000" stroke-width="1.2"/>
<line x1="513" y1="602.5" x2="632.5" y2="602.5" stroke="#000" stroke-width="1"/>
<line x1="513" y1="605.9" x2="632.5" y2="605.9" stroke="#6a6a6a" stroke-width="1.6"/>
<line x1="513" y1="609.7" x2="632.5" y2="609.7" stroke="#6a6a6a" stroke-width="1.6"/>
<line x1="513" y1="617.5" x2="632.5" y2="617.5" stroke="#000" stroke-width="1.2"/>
<line x1="660.8" y1="602.5" x2="780" y2="602.5" stroke="#000" stroke-width="1"/>
<line x1="660.8" y1="605.9" x2="780" y2="605.9" stroke="#6a6a6a" stroke-width="1.6"/>
<line x1="660.8" y1="609.7" x2="780" y2="609.7" stroke="#6a6a6a" stroke-width="1.6"/>
<line x1="660.8" y1="617.5" x2="780" y2="617.5" stroke="#000" stroke-width="1.2"/>
<line x1="793" y1="602.5" x2="912.9" y2="602.5" stroke="#000" stroke-width="1"/>
<line x1="793" y1="605.9" x2="912.9" y2="605.9" stroke="#6a6a6a" stroke-width="1.6"/>
<line x1="793" y1="609.7" x2="912.9" y2="609.7" stroke="#6a6a6a" stroke-width="1.6"/>
<line x1="793" y1="617.5" x2="912.9" y2="617.5" stroke="#000" stroke-width="1.2"/>
<rect x="499.7" y="602.1" width="13.3" height="15" stroke="#000" stroke-width="1.6" fill="#fff"/>
<rect x="632.5" y="602.1" width="28.3" height="15" stroke="#000" stroke-width="1.6" fill="#fff"/>
<rect x="780" y="602.1" width="13" height="15" stroke="#000" stroke-width="1.6" fill="#fff"/>
<polyline points="332.4,617.3 332.4,704.6 960.9,704.6 960.9,617.3" stroke="#222" stroke-width="1.2" fill="none"/>
<line x1="499.5" y1="148" x2="499.5" y2="222.5" stroke="#000" stroke-width="1"/>
<line x1="505.5" y1="148" x2="505.5" y2="222.5" stroke="#000" stroke-width="1"/>
<line x1="499.7" y1="222.5" x2="505.5" y2="222.5" stroke="#000" stroke-width="1"/>
<line x1="499.5" y1="269.5" x2="499.5" y2="289.5" stroke="#000" stroke-width="1"/>
<line x1="505.5" y1="269.5" x2="505.5" y2="289.5" stroke="#000" stroke-width="1"/>
<line x1="499.7" y1="269.5" x2="505.5" y2="269.5" stroke="#000" stroke-width="1"/>
<line x1="499.7" y1="289.5" x2="505.5" y2="289.5" stroke="#000" stroke-width="1"/>
<line x1="499.5" y1="345" x2="499.5" y2="602.2" stroke="#000" stroke-width="1"/>
<line x1="505.5" y1="345" x2="505.5" y2="602.2" stroke="#000" stroke-width="1"/>
<line x1="499.7" y1="345.5" x2="505.3" y2="345.5" stroke="#000" stroke-width="1"/>
<line x1="279.3" y1="277.5" x2="499.7" y2="277.5" stroke="#000" stroke-width="1"/>
<line x1="279.3" y1="282.5" x2="424.2" y2="282.5" stroke="#000" stroke-width="1"/>
<line x1="429.4" y1="282.5" x2="499.7" y2="282.5" stroke="#000" stroke-width="1"/>
<line x1="279.3" y1="326.5" x2="424.2" y2="326.5" stroke="#000" stroke-width="1"/>
<line x1="279.3" y1="328.5" x2="429.4" y2="328.5" stroke="#000" stroke-width="1"/>
<line x1="424.5" y1="282.7" x2="424.5" y2="328.5" stroke="#000" stroke-width="1"/>
<line x1="429.5" y1="282.7" x2="429.5" y2="328.5" stroke="#000" stroke-width="1"/>
<line x1="279.3" y1="282.9" x2="424.2" y2="326.6" stroke="#000" stroke-width="1"/>
<line x1="775.5" y1="148" x2="775.5" y2="220" stroke="#000" stroke-width="1"/>
<line x1="780.5" y1="148" x2="780.5" y2="214.4" stroke="#000" stroke-width="1"/>
<line x1="775.5" y1="220.5" x2="787.7" y2="220.5" stroke="#000" stroke-width="1"/>
<line x1="787.5" y1="220" x2="787.5" y2="241" stroke="#000" stroke-width="1"/>
<line x1="792.5" y1="214.4" x2="792.5" y2="241" stroke="#000" stroke-width="1"/>
<line x1="787.7" y1="241.5" x2="792.8" y2="241.5" stroke="#000" stroke-width="1"/>
<line x1="780.9" y1="214.5" x2="854.6" y2="214.5" stroke="#000" stroke-width="1"/>
<line x1="854.5" y1="148" x2="854.5" y2="214.4" stroke="#000" stroke-width="1"/>
<line x1="787.5" y1="293" x2="787.5" y2="315.5" stroke="#000" stroke-width="1"/>
<line x1="792.5" y1="293" x2="792.5" y2="315.5" stroke="#000" stroke-width="1"/>
<line x1="787.7" y1="293.5" x2="792.8" y2="293.5" stroke="#000" stroke-width="1"/>
<line x1="787.7" y1="315.5" x2="792.8" y2="315.5" stroke="#000" stroke-width="1"/>
<line x1="787.5" y1="367" x2="787.5" y2="602.2" stroke="#000" stroke-width="1"/>
<line x1="792.5" y1="367" x2="792.5" y2="602.2" stroke="#000" stroke-width="1"/>
<line x1="787.7" y1="367.5" x2="792.8" y2="367.5" stroke="#000" stroke-width="1"/>
<line x1="792.8" y1="299.5" x2="946" y2="299.5" stroke="#000" stroke-width="1"/>
<line x1="792.8" y1="304.5" x2="850.8" y2="304.5" stroke="#000" stroke-width="1"/>
<line x1="850.5" y1="304.6" x2="850.5" y2="349.7" stroke="#000" stroke-width="1"/>
<line x1="855.5" y1="304.6" x2="855.5" y2="348" stroke="#000" stroke-width="1"/>
<line x1="855.4" y1="304.5" x2="951.5" y2="304.5" stroke="#000" stroke-width="1"/>
<line x1="850.8" y1="349.5" x2="1013.8" y2="349.5" stroke="#000" stroke-width="1"/>
<line x1="855.4" y1="348.5" x2="1013.8" y2="348.5" stroke="#000" stroke-width="1"/>
<line x1="855.5" y1="304.8" x2="1013.8" y2="348" stroke="#000" stroke-width="1"/>
<line x1="946.5" y1="148" x2="946.5" y2="299.4" stroke="#000" stroke-width="1"/>
<line x1="951.5" y1="148" x2="951.5" y2="304.2" stroke="#000" stroke-width="1"/>
<line x1="573.5" y1="148" x2="573.5" y2="216.4" stroke="#000" stroke-width="1"/>
<line x1="592.5" y1="148" x2="592.5" y2="216.4" stroke="#000" stroke-width="1"/>
<line x1="611.5" y1="148" x2="611.5" y2="216.4" stroke="#000" stroke-width="1"/>
<line x1="630.5" y1="148" x2="630.5" y2="216.4" stroke="#000" stroke-width="1"/>
<line x1="649.5" y1="148" x2="649.5" y2="216.4" stroke="#000" stroke-width="1"/>
<line x1="668.5" y1="148" x2="668.5" y2="216.4" stroke="#000" stroke-width="1"/>
<line x1="687.5" y1="148" x2="687.5" y2="216.4" stroke="#000" stroke-width="1"/>
<line x1="707.5" y1="148" x2="707.5" y2="216.4" stroke="#000" stroke-width="1"/>
<line x1="505.5" y1="216.5" x2="775.5" y2="216.5" stroke="#000" stroke-width="1"/>
<line x1="573.2" y1="220.5" x2="775.5" y2="220.5" stroke="#000" stroke-width="1"/>
<line x1="573.5" y1="216.4" x2="573.5" y2="220" stroke="#000" stroke-width="1"/>
<line x1="535.5" y1="175.5" x2="743.6" y2="175.5" stroke="#000" stroke-width="1"/>
<line x1="535.5" y1="175.7" x2="535.5" y2="224.4" stroke="#000" stroke-width="1"/>
<line x1="743.5" y1="175.7" x2="743.5" y2="216.4" stroke="#000" stroke-width="1"/>
<line x1="573.2" y1="216.4" x2="505.8" y2="148.3" stroke="#000" stroke-width="1"/>
<line x1="573.2" y1="216.4" x2="542.7" y2="148.3" stroke="#000" stroke-width="1"/>
<line x1="573.2" y1="216.4" x2="505.8" y2="183.8" stroke="#000" stroke-width="1"/>
<line x1="707.1" y1="216.4" x2="737.9" y2="148.3" stroke="#000" stroke-width="1"/>
<line x1="707.1" y1="216.4" x2="775.3" y2="148.3" stroke="#000" stroke-width="1"/>
<line x1="707.1" y1="216.4" x2="775.3" y2="183.8" stroke="#000" stroke-width="1"/>
<polyline points="529.6,207.9 534.4,222 535.5,205" stroke="#000" stroke-width="1" fill="none"/>
<polygon points="502.55,268.74 475.25,230.84 473.15,232.36 500.45,270.26" stroke="#000" stroke-width="0.9" fill="#fff"/>
<path d="M 473.4 231.2 A 48 48 0 0 1 502 222.3" stroke="#000" stroke-width="1" fill="none"/>
<rect x="444.5" y="288.5" width="55" height="3" stroke="#000" stroke-width="0.9" fill="#fff"/>
<path d="M 444.5 289.5 A 57 56 0 0 0 502 345" stroke="#000" stroke-width="1" fill="none"/>
<rect x="793.5" y="293.5" width="55" height="3" stroke="#000" stroke-width="0.9" fill="#fff"/>
<path d="M 848.5 296 A 55.5 55.5 0 0 0 789.5 241" stroke="#000" stroke-width="1" fill="none"/>
<rect x="793.5" y="311.5" width="55" height="4" stroke="#000" stroke-width="0.9" fill="#fff"/>
<path d="M 848.5 313 A 55.5 55 0 0 1 790.5 367" stroke="#000" stroke-width="1" fill="none"/>
<rect x="342.5" y="185.5" width="62" height="41" stroke="#8a8a8a" stroke-width="1" fill="none"/>
<rect x="688.5" y="279.5" width="61" height="42" stroke="#8a8a8a" stroke-width="1" fill="none"/>
<line x1="787" y1="155.5" x2="805.4" y2="173.7" stroke="#000" stroke-width="1"/>
<line x1="837.5" y1="155.5" x2="822.6" y2="173.7" stroke="#000" stroke-width="1"/>
<line x1="791" y1="206" x2="808" y2="189.3" stroke="#000" stroke-width="1"/>
<line x1="839.7" y1="205" x2="823.6" y2="189.3" stroke="#000" stroke-width="1"/>
<circle cx="815.5" cy="181.7" r="4" stroke="#000" stroke-width="1" fill="none"/>
<rect x="884.6" y="149.6" width="30" height="15.4" rx="2" stroke="#000" stroke-width="1" fill="none"/>
<line x1="884.6" y1="165.2" x2="914.6" y2="165.2" stroke="#000" stroke-width="1.5"/>
<circle cx="899.6" cy="156.8" r="1.1" fill="#333"/>
<path d="M 884.9 165.5 C 885.2 191, 890.5 203.2, 899.6 203.2 C 908.7 203.2, 914 191, 914.3 165.5" stroke="#000" stroke-width="1" fill="none"/>
<ellipse cx="899.6" cy="184.6" rx="10.8" ry="15" stroke="#000" stroke-width="1" fill="none"/>
<line x1="895.2" y1="177.5" x2="904" y2="177.5" stroke="#000" stroke-width="0.9"/>
<line x1="899.5" y1="172.8" x2="899.5" y2="181.6" stroke="#000" stroke-width="0.9"/>
<circle cx="899.6" cy="177.2" r="2.8" stroke="#000" stroke-width="0.9" fill="none"/>
<rect x="855.5" y="261.5" width="91" height="38" stroke="#000" stroke-width="1" fill="none"/>
<ellipse cx="898.2" cy="277" rx="19.5" ry="13.2" stroke="#000" stroke-width="1" fill="none"/>
<circle cx="898.2" cy="287.5" r="2" fill="#000"/>
<circle cx="894" cy="293.2" r="1.5" stroke="#000" stroke-width="0.8" fill="none"/>
<circle cx="902.2" cy="293.2" r="1.5" stroke="#000" stroke-width="0.8" fill="none"/>
<rect x="505.5" y="354.5" width="28" height="32" stroke="#000" stroke-width="1" fill="none"/>
<rect x="505.5" y="359.5" width="23" height="23" stroke="#000" stroke-width="1" fill="none"/>
<polygon points="522.8,362.7 528.2,360 528.2,382.4" stroke="none" stroke-width="0" fill="#bdbdbd"/>
<polyline points="505.5,359.7 522.8,362.7 528.2,382.4" stroke="#000" stroke-width="1" fill="none"/>
<line x1="533.1" y1="386.9" x2="787.7" y2="386.9" stroke="#000" stroke-width="1.6"/>
<rect x="279.5" y="386.5" width="167" height="122" stroke="#000" stroke-width="1" fill="none"/>
<line x1="302.5" y1="386.4" x2="302.5" y2="508.5" stroke="#000" stroke-width="1"/>
<line x1="333" y1="386.4" x2="333" y2="487.5" stroke="#555" stroke-width="1.6"/>
<line x1="353.5" y1="386.4" x2="353.5" y2="508.5" stroke="#000" stroke-width="1"/>
<rect x="308.5" y="400.5" width="23" height="36" stroke="#000" stroke-width="1" fill="none"/>
<rect x="308.5" y="454.5" width="23" height="36" stroke="#000" stroke-width="1" fill="none"/>
<line x1="333" y1="487.5" x2="353.3" y2="487.5" stroke="#000" stroke-width="1"/>
<line x1="333" y1="487.5" x2="353.3" y2="507.8" stroke="#000" stroke-width="1"/>
<rect x="846.5" y="404.5" width="167" height="121" stroke="#000" stroke-width="1" fill="none"/>
<line x1="939.5" y1="404.1" x2="939.5" y2="525.5" stroke="#000" stroke-width="1"/>
<line x1="960.3" y1="404.1" x2="960.3" y2="505.8" stroke="#555" stroke-width="1.6"/>
<line x1="991.5" y1="404.1" x2="991.5" y2="525.5" stroke="#000" stroke-width="1"/>
<rect x="962.5" y="418.5" width="22" height="36" stroke="#000" stroke-width="1" fill="none"/>
<rect x="962.5" y="472.5" width="22" height="36" stroke="#000" stroke-width="1" fill="none"/>
<line x1="939.4" y1="505.5" x2="960.3" y2="505.5" stroke="#000" stroke-width="1"/>
<line x1="960.3" y1="505.8" x2="939.4" y2="525.5" stroke="#000" stroke-width="1"/>
<line x1="271.5" y1="178.5" x2="507.4" y2="178.5" stroke="#000" stroke-width="1"/>
<line x1="275.1" y1="182.8" x2="283.5" y2="174.4" stroke="#000" stroke-width="1"/>
<line x1="495.5" y1="182.8" x2="503.9" y2="174.4" stroke="#000" stroke-width="1"/>
<line x1="499.5" y1="155" x2="499.5" y2="185.5" stroke="#000" stroke-width="1.2"/>
<line x1="315.5" y1="140" x2="315.5" y2="609" stroke="#000" stroke-width="1"/>
<line x1="311.4" y1="143.8" x2="319.8" y2="152.2" stroke="#000" stroke-width="1"/>
<line x1="311.4" y1="273.6" x2="319.8" y2="282" stroke="#000" stroke-width="1"/>
<line x1="311.4" y1="278.5" x2="319.8" y2="286.9" stroke="#000" stroke-width="1"/>
<line x1="311.4" y1="324.2" x2="319.8" y2="332.6" stroke="#000" stroke-width="1"/>
<line x1="311.4" y1="598.2" x2="319.8" y2="606.6" stroke="#000" stroke-width="1"/>
<line x1="296" y1="328.5" x2="320" y2="328.5" stroke="#000" stroke-width="1.2"/>
<line x1="270.9" y1="571" x2="1021.4" y2="571" stroke="#000" stroke-width="1"/>
<line x1="275.1" y1="575.2" x2="283.5" y2="566.8" stroke="#000" stroke-width="1"/>
<line x1="496.1" y1="575.2" x2="504.5" y2="566.8" stroke="#000" stroke-width="1"/>
<line x1="501.1" y1="575.2" x2="509.5" y2="566.8" stroke="#000" stroke-width="1"/>
<line x1="783.8" y1="575.2" x2="792.2" y2="566.8" stroke="#000" stroke-width="1"/>
<line x1="788.8" y1="575.2" x2="797.2" y2="566.8" stroke="#000" stroke-width="1"/>
<line x1="1009.6" y1="575.2" x2="1018" y2="566.8" stroke="#000" stroke-width="1"/>
<line x1="500" y1="563.3" x2="500" y2="594.3" stroke="#000" stroke-width="1.5"/>
<line x1="505.4" y1="563.3" x2="505.4" y2="594.3" stroke="#000" stroke-width="1.5"/>
<line x1="788" y1="563.3" x2="788" y2="594.3" stroke="#000" stroke-width="1.5"/>
<line x1="793.2" y1="563.3" x2="793.2" y2="594.3" stroke="#000" stroke-width="1.5"/>
<line x1="750.5" y1="139.6" x2="750.5" y2="609" stroke="#000" stroke-width="1"/>
<line x1="746.5" y1="143.8" x2="754.9" y2="152.2" stroke="#000" stroke-width="1"/>
<line x1="746.5" y1="216" x2="754.9" y2="224.4" stroke="#000" stroke-width="1"/>
<line x1="746.5" y1="382.7" x2="754.9" y2="391.1" stroke="#000" stroke-width="1"/>
<line x1="746.5" y1="597.7" x2="754.9" y2="606.1" stroke="#000" stroke-width="1"/>
<line x1="740" y1="386.5" x2="762" y2="386.5" stroke="#000" stroke-width="1.3"/>
<line x1="743.6" y1="220.5" x2="757" y2="220.5" stroke="#000" stroke-width="1"/>
<line x1="774" y1="177.5" x2="953.8" y2="177.5" stroke="#000" stroke-width="1"/>
<line x1="776.7" y1="181.6" x2="785.1" y2="173.2" stroke="#000" stroke-width="1"/>
<line x1="941.3" y1="181.6" x2="949.7" y2="173.2" stroke="#000" stroke-width="1"/>
<line x1="918.5" y1="139.6" x2="918.5" y2="306.5" stroke="#000" stroke-width="1"/>
<line x1="914.2" y1="143.8" x2="922.6" y2="152.2" stroke="#000" stroke-width="1"/>
<line x1="914.2" y1="295.4" x2="922.6" y2="303.8" stroke="#000" stroke-width="1"/>
<line x1="912" y1="299.5" x2="938" y2="299.5" stroke="#000" stroke-width="1"/>
<line x1="984.5" y1="297.4" x2="984.5" y2="609" stroke="#000" stroke-width="1"/>
<line x1="980.1" y1="299.8" x2="988.5" y2="308.2" stroke="#000" stroke-width="1"/>
<line x1="980.1" y1="598.2" x2="988.5" y2="606.6" stroke="#000" stroke-width="1"/>
<line x1="958.4" y1="304.5" x2="991.7" y2="304.5" stroke="#000" stroke-width="1"/>
<line x1="880.5" y1="610" x2="880.5" y2="712.2" stroke="#000" stroke-width="1"/>
<line x1="876.1" y1="613.1" x2="884.5" y2="621.5" stroke="#000" stroke-width="1"/>
<line x1="876.1" y1="700.4" x2="884.5" y2="708.8" stroke="#000" stroke-width="1"/>
<line x1="324.3" y1="680" x2="968" y2="680" stroke="#111" stroke-width="1"/>
<line x1="328.2" y1="684.2" x2="336.6" y2="675.8" stroke="#000" stroke-width="1"/>
<line x1="956.7" y1="684.2" x2="965.1" y2="675.8" stroke="#000" stroke-width="1"/>
<text x="636.42" y="74.8" font-size="11" fill="#000" text-anchor="start" textLength="19.85" lengthAdjust="spacingAndGlyphs" font-weight="normal" stroke="#000" stroke-width="0.25" xml:space="preserve">1005</text>
<text x="636.42" y="737.5" font-size="11" fill="#000" text-anchor="start" textLength="19.85" lengthAdjust="spacingAndGlyphs" font-weight="normal" stroke="#000" stroke-width="0.25" xml:space="preserve">1005</text>
<text x="381.56" y="176.7" font-size="11" fill="#000" text-anchor="start" textLength="15.78" lengthAdjust="spacingAndGlyphs" font-weight="normal" stroke="#000" stroke-width="0.25" xml:space="preserve">290</text>
<text x="381.76" y="569.7" font-size="11" fill="#000" text-anchor="start" textLength="15.78" lengthAdjust="spacingAndGlyphs" font-weight="normal" stroke="#000" stroke-width="0.25" xml:space="preserve">290</text>
<text x="896.06" y="569.7" font-size="11" fill="#000" text-anchor="start" textLength="15.78" lengthAdjust="spacingAndGlyphs" font-weight="normal" stroke="#000" stroke-width="0.25" xml:space="preserve">290</text>
<text x="639.58" y="569.6" font-size="11" fill="#000" text-anchor="start" textLength="14.03" lengthAdjust="spacingAndGlyphs" font-weight="normal" stroke="#000" stroke-width="0.25" xml:space="preserve">371</text>
<text x="856.38" y="175.8" font-size="11" fill="#000" text-anchor="start" textLength="14.1" lengthAdjust="spacingAndGlyphs" font-weight="normal" stroke="#000" stroke-width="0.25" xml:space="preserve">216</text>
<text x="638.4" y="679" font-size="11" fill="#000" text-anchor="start" textLength="15.78" lengthAdjust="spacingAndGlyphs" font-weight="normal" stroke="#000" stroke-width="0.25" xml:space="preserve">825</text>
<text x="208.9" y="382.49" font-size="11" fill="#000" text-anchor="start" transform="rotate(-90 208.9 382.49)" textLength="15.78" lengthAdjust="spacingAndGlyphs" font-weight="normal" stroke="#000" stroke-width="0.25">637</text>
<text x="1090.9" y="382.49" font-size="11" fill="#000" text-anchor="start" transform="rotate(-90 1090.9 382.49)" textLength="15.78" lengthAdjust="spacingAndGlyphs" font-weight="normal" stroke="#000" stroke-width="0.25">637</text>
<text x="313.9" y="219.43" font-size="11" fill="#000" text-anchor="start" transform="rotate(-90 313.9 219.43)" textLength="13.86" lengthAdjust="spacingAndGlyphs" font-weight="normal" stroke="#000" stroke-width="0.25">170</text>
<text x="313.9" y="310.32" font-size="11" fill="#000" text-anchor="start" transform="rotate(-90 313.9 310.32)" textLength="10.52" lengthAdjust="spacingAndGlyphs" font-weight="normal" stroke="#000" stroke-width="0.25">60</text>
<text x="313.9" y="472.49" font-size="11" fill="#000" text-anchor="start" transform="rotate(-90 313.9 472.49)" textLength="15.78" lengthAdjust="spacingAndGlyphs" font-weight="normal" stroke="#000" stroke-width="0.25">360</text>
<text x="749" y="188.98" font-size="11" fill="#000" text-anchor="start" transform="rotate(-90 749 188.98)" textLength="10.52" lengthAdjust="spacingAndGlyphs" font-weight="normal" stroke="#000" stroke-width="0.25">95</text>
<text x="749" y="311.44" font-size="11" fill="#000" text-anchor="start" transform="rotate(-90 749 311.44)" textLength="15.78" lengthAdjust="spacingAndGlyphs" font-weight="normal" stroke="#000" stroke-width="0.25">220</text>
<text x="749" y="502.89" font-size="11" fill="#000" text-anchor="start" transform="rotate(-90 749 502.89)" textLength="15.78" lengthAdjust="spacingAndGlyphs" font-weight="normal" stroke="#000" stroke-width="0.25">282</text>
<text x="916.9" y="230.86" font-size="11" fill="#000" text-anchor="start" transform="rotate(-90 916.9 230.86)" textLength="14.36" lengthAdjust="spacingAndGlyphs" font-weight="normal" stroke="#000" stroke-width="0.25">199</text>
<text x="982.1" y="460.24" font-size="11" fill="#000" text-anchor="start" transform="rotate(-90 982.1 460.24)" textLength="14.77" lengthAdjust="spacingAndGlyphs" font-weight="normal" stroke="#000" stroke-width="0.25">391</text>
<text x="878.6" y="667.88" font-size="11" fill="#000" text-anchor="start" transform="rotate(-90 878.6 667.88)" textLength="12.7" lengthAdjust="spacingAndGlyphs" font-weight="normal" stroke="#000" stroke-width="0.25">115</text>
<text x="290" y="378.33" font-size="10.2" fill="#000" text-anchor="start" transform="rotate(-90 290 378.33)" textLength="23.08" lengthAdjust="spacingAndGlyphs" font-weight="normal" stroke="#000" stroke-width="0.25">1,05m</text>
<text x="338.4" y="378.33" font-size="10.2" fill="#000" text-anchor="start" transform="rotate(-90 338.4 378.33)" textLength="23.08" lengthAdjust="spacingAndGlyphs" font-weight="normal" stroke="#000" stroke-width="0.25">1,50m</text>
<text x="383.1" y="378.33" font-size="10.2" fill="#000" text-anchor="start" transform="rotate(-90 383.1 378.33)" textLength="23.08" lengthAdjust="spacingAndGlyphs" font-weight="normal" stroke="#000" stroke-width="0.25">1,80m</text>
<text x="916.8" y="378.33" font-size="10.2" fill="#000" text-anchor="start" transform="rotate(-90 916.8 378.33)" textLength="23.08" lengthAdjust="spacingAndGlyphs" font-weight="normal" stroke="#000" stroke-width="0.25">1,80m</text>
<text x="960.9" y="378.33" font-size="10.2" fill="#000" text-anchor="start" transform="rotate(-90 960.9 378.33)" textLength="23.08" lengthAdjust="spacingAndGlyphs" font-weight="normal" stroke="#000" stroke-width="0.25">1,50m</text>
<text x="1010.4" y="378.33" font-size="10.2" fill="#000" text-anchor="start" transform="rotate(-90 1010.4 378.33)" textLength="23.08" lengthAdjust="spacingAndGlyphs" font-weight="normal" stroke="#000" stroke-width="0.25">1,05m</text>
<text x="352.03" y="200.8" font-size="13.4" fill="#111" text-anchor="start" textLength="59.99" lengthAdjust="spacingAndGlyphs" font-weight="normal" xml:space="preserve">dressing</text>
<text x="598.64" y="296.1" font-size="13.3" fill="#111" text-anchor="start" textLength="76.96" lengthAdjust="spacingAndGlyphs" font-weight="normal" xml:space="preserve">mezzanine</text>
<text x="821" y="238.8" font-size="14.6" fill="#111" text-anchor="start" textLength="34.2" lengthAdjust="spacingAndGlyphs" font-weight="normal" xml:space="preserve">BAIN</text>
<text x="864.15" y="238.8" font-size="14.6" fill="#111" text-anchor="start" textLength="9.4" lengthAdjust="spacingAndGlyphs" font-weight="normal" xml:space="preserve">2</text>
<text x="373.4" y="463" font-size="14" fill="#111" text-anchor="start" textLength="69.1" lengthAdjust="spacingAndGlyphs" font-weight="normal" xml:space="preserve">CHAMBRE</text>
<text x="452.23" y="463" font-size="14" fill="#111" text-anchor="start" textLength="8.33" lengthAdjust="spacingAndGlyphs" font-weight="normal" xml:space="preserve">3</text>
<text x="832.9" y="467.8" font-size="14" fill="#111" text-anchor="start" textLength="68.69" lengthAdjust="spacingAndGlyphs" font-weight="normal" xml:space="preserve">CHAMBRE</text>
<text x="911.07" y="467.8" font-size="14" fill="#111" text-anchor="start" textLength="9.16" lengthAdjust="spacingAndGlyphs" font-weight="normal" xml:space="preserve">2</text>
<rect x="589.6" y="490.9" width="115.8" height="17.6" stroke="none" stroke-width="0" fill="#fff"/>
<text x="590.95" y="503.5" font-size="13.4" fill="#111" text-anchor="start" textLength="112.42" lengthAdjust="spacingAndGlyphs" font-weight="normal" xml:space="preserve">vide  sur  séjour</text>
<line x1="646.5" y1="94.5" x2="646.5" y2="708.7" stroke="#888" stroke-width="1" stroke-dasharray="5 2.2" clip-path="url(#lbl)"/>
<text x="361.25" y="297.9" font-size="9.6" fill="#000" text-anchor="start" textLength="33.21" lengthAdjust="spacingAndGlyphs" font-weight="normal" stroke="#000" stroke-width="0.15" xml:space="preserve">placard</text>
<text x="888.36" y="336.8" font-size="9.6" fill="#000" text-anchor="start" textLength="32.58" lengthAdjust="spacingAndGlyphs" font-weight="normal" stroke="#000" stroke-width="0.15" xml:space="preserve">placard</text>
<text x="966.51" y="209" font-size="9.5" fill="#000" text-anchor="start" textLength="24.22" lengthAdjust="spacingAndGlyphs" font-weight="normal" stroke="#000" stroke-width="0.15" xml:space="preserve">cagibi</text>
<text x="953.47" y="222.5" font-size="10.3" fill="#000" text-anchor="start" textLength="59.87" lengthAdjust="spacingAndGlyphs" font-weight="normal" stroke="#000" stroke-width="0.15" xml:space="preserve">1,05m&lt;h&lt;1,50m</text>
<text x="586.07" y="649.8" font-size="10.8" fill="#000" text-anchor="start" textLength="37.86" lengthAdjust="spacingAndGlyphs" font-weight="normal" stroke="#000" stroke-width="0.15" xml:space="preserve">balcon</text>
</svg>
</body></html>
